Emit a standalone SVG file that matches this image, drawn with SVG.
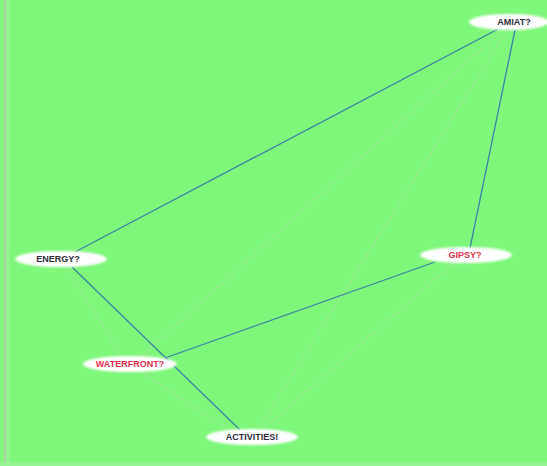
<svg xmlns="http://www.w3.org/2000/svg" width="547" height="466" viewBox="0 0 547 466">
  <defs>
    <filter id="soft" x="-20%" y="-60%" width="140%" height="220%">
      <feGaussianBlur stdDeviation="1.2"/>
    </filter>
    <style>
      .bg { fill: #7ff77b; }
      .edge { stroke: #3d85a3; stroke-width: 1.3; fill: none; }
      .weak { stroke: #a6e8a2; stroke-width: 1.1; fill: none; stroke-dasharray: 3 2; }
      .node ellipse { fill: #ffffff; filter: url(#soft); }
      .node text { font-family: "Liberation Sans", Arial, sans-serif; font-size: 9px; font-weight: bold; text-anchor: middle; }
      .plain { fill: #2e2e3a; }
      .alert { fill: #e8304a; }
    </style>
  </defs>

  <rect class="bg" x="0" y="0" width="547" height="466"/>
  <rect x="4" y="0" width="1.5" height="466" fill="#b9c8a8"/>
  <rect x="6" y="0" width="4" height="466" fill="#94f590"/>
  <rect x="0" y="462" width="547" height="4" fill="#94f590"/>

  <g id="connectors">
    <line class="weak" x1="505" y1="28" x2="140" y2="357"/>
    <line class="weak" x1="508" y1="29" x2="258" y2="430"/>
    <line class="weak" x1="455" y1="262" x2="262" y2="430"/>
    <line class="weak" x1="66" y1="266" x2="122" y2="357"/>
    <line class="weak" x1="140" y1="371" x2="232" y2="432"/>
    <line class="edge" x1="500" y1="28" x2="75" y2="252"/>
    <line class="edge" x1="515" y1="30" x2="470" y2="248"/>
    <line class="edge" x1="72" y1="267" x2="240" y2="430"/>
    <line class="edge" x1="435" y1="262" x2="165" y2="358"/>
  </g>

  <g id="node-amiat" class="node">
    <ellipse cx="509" cy="22" rx="40" ry="8"/>
    <text class="plain" x="514" y="25">AMIAT?</text>
  </g>
  <g id="node-energy" class="node">
    <ellipse cx="61" cy="259" rx="46" ry="8"/>
    <text class="plain" x="58" y="262">ENERGY?</text>
  </g>
  <g id="node-gipsy" class="node">
    <ellipse cx="466" cy="255" rx="46" ry="8"/>
    <text class="alert" x="465" y="258">GIPSY?</text>
  </g>
  <g id="node-waterfront" class="node">
    <ellipse cx="130" cy="364" rx="47" ry="8"/>
    <text class="alert" x="130" y="367">WATERFRONT?</text>
  </g>
  <g id="node-activities" class="node">
    <ellipse cx="252" cy="437" rx="46" ry="8"/>
    <text class="plain" x="252" y="440">ACTIVITIES!</text>
  </g>
</svg>
